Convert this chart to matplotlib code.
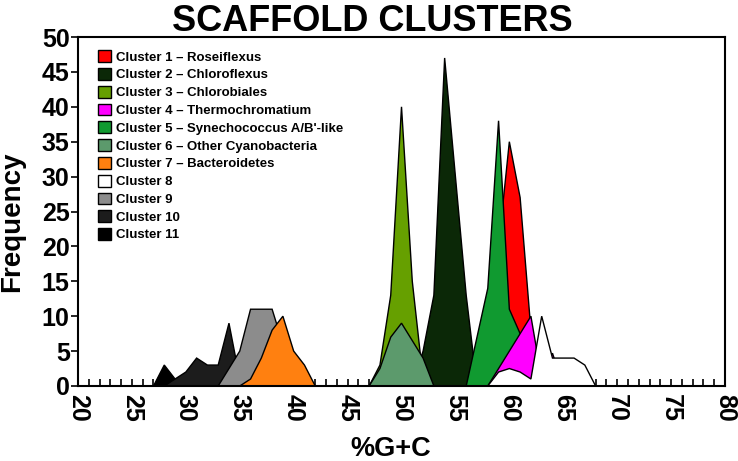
import matplotlib
matplotlib.use("Agg")
import matplotlib.pyplot as plt
from matplotlib.ticker import MultipleLocator

plt.rcParams['font.family'] = ['Liberation Sans', 'DejaVu Sans']

# %G+C bins and frequencies
names = ["Cluster 1 \u2013 Roseiflexus", "Cluster 2 \u2013 Chloroflexus", "Cluster 3 \u2013 Chlorobiales",
         "Cluster 4 \u2013 Thermochromatium", "Cluster 5 \u2013 Synechococcus A/B'-like",
         "Cluster 6 \u2013 Other Cyanobacteria", "Cluster 7 \u2013 Bacteroidetes",
         "Cluster 8", "Cluster 9", "Cluster 10", "Cluster 11"]
colors = ["#ff0000", "#0b2807", "#66a000", "#ff00ff", "#109a30", "#5c9a6c",
          "#ff8010", "#ffffff", "#8c8c8c", "#1c1c1c", "#000000"]

gc1 = [58, 59, 60, 61, 62, 63]
freq1 = [0, 20, 35, 27, 8, 0]
gc2 = [51, 52, 53, 54, 55, 56, 57]
freq2 = [0, 5, 13, 47, 30, 13, 0]
gc3 = [47, 48, 49, 50, 51, 52, 53]
freq3 = [0, 3, 13, 40, 15, 1, 0]
gc4 = [58, 59, 60, 61, 62, 63, 64, 65]
freq4 = [0, 2.5, 5, 7.5, 10, 1, 4.7, 0]
gc5 = [56, 57, 58, 59, 60, 61, 62, 63]
freq5 = [0, 7, 14, 38, 11, 7.5, 2, 0]
gc6 = [47, 48, 49, 50, 51, 52, 53]
freq6 = [0, 2.5, 7, 9, 6.5, 4, 0]
gc7 = [35, 36, 37, 38, 39, 40, 41, 42]
freq7 = [0, 1, 4, 8, 10, 5, 3, 0]
gc8 = [58, 59, 60, 61, 62, 63, 64, 65, 66, 67, 68]
freq8 = [0, 2, 2.5, 2, 1, 10, 4, 4, 4, 3, 0]
gc9 = [33, 34, 35, 36, 37, 38, 39, 40, 41]
freq9 = [0, 2.5, 5, 11, 11, 11, 6, 2, 0]
gc10 = [28, 29, 30, 31, 32, 33, 34, 35, 36]
freq10 = [0, 1, 2, 4, 3, 3, 9, 1, 0]
gc11 = [27, 28, 29, 30]
freq11 = [0, 3, 1, 0]

series = [(gc1, freq1), (gc2, freq2), (gc3, freq3), (gc4, freq4), (gc5, freq5), (gc6, freq6),
          (gc7, freq7), (gc8, freq8), (gc9, freq9), (gc10, freq10), (gc11, freq11)]
# stacking order as seen in the picture (index into series)
draw_order = [10, 9, 8, 6, 0, 1, 2, 5, 4, 3, 7]

fig = plt.figure(figsize=(7.38, 4.61), dpi=100)
ax = fig.add_axes([0.1057, 0.1627, 0.8767, 0.757])

handles = [None] * len(series)
for z, i in enumerate(draw_order):
    x, y = series[i]
    h = ax.fill(x, y, facecolor=colors[i], edgecolor="black", linewidth=1.0,
                zorder=2 + z * 0.01, label=names[i])[0]
    handles[i] = h

ax.set_xlim(20, 80)
ax.set_ylim(0, 50)
ax.xaxis.set_major_locator(MultipleLocator(5))
ax.xaxis.set_minor_locator(MultipleLocator(1))
ax.yaxis.set_major_locator(MultipleLocator(5))
ax.tick_params(axis='x', which='both', direction='in', length=5, width=1.2, pad=6)
ax.tick_params(axis='y', which='major', direction='out', length=5, width=1.2, pad=1)
ax.set_axisbelow(True)
for s in ax.spines.values():
    s.set_linewidth(1.5)
    s.set_zorder(3)

for lab in ax.get_xticklabels():
    lab.set_rotation(270)
    lab.set_fontsize(18)
    lab.set_fontweight('bold')
for lab in ax.get_yticklabels():
    lab.set_fontsize(18)
    lab.set_fontweight('bold')

ax.set_xlabel("%G+C", fontsize=19.5, fontweight='bold', va='top')
ax.xaxis.set_label_coords(0.484, -0.143)
ax.set_ylabel("Frequency", fontsize=20, fontweight='bold')
ax.yaxis.set_label_coords(-0.081, 0.47)
fig.text(0.504, 1 - 31 / 461, "SCAFFOLD CLUSTERS", fontsize=26, fontweight='bold',
         ha='center', va='baseline')

leg = ax.legend(handles=handles, loc='upper left', bbox_to_anchor=(0.031, 0.962), frameon=False,
                prop={'weight': 'bold', 'size': 9.5}, handlelength=1.0, handleheight=1.0,
                handletextpad=0.35, labelspacing=0.33, borderaxespad=0, borderpad=0)

fig.savefig("out.png", dpi=100)
